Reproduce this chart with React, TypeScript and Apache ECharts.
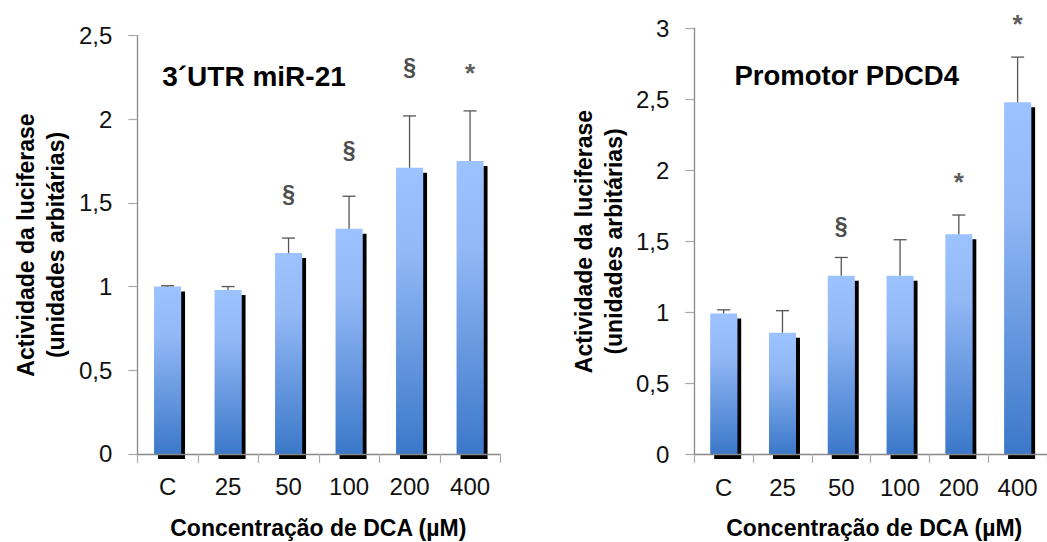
import React, { useEffect, useRef } from 'react';
import * as echarts from 'echarts';

const categories = ['C', '25', '50', '100', '200', '400'];
const leftMeans = [1.0, 0.98, 1.2, 1.345, 1.71, 1.75];
const leftSD = [0.005, 0.02, 0.09, 0.195, 0.31, 0.3];
const leftMarks = ['', '', '§', '§', '§', '*'];
const leftMarkAt = [0, 0, 1.54, 1.806, 2.3, 2.31];
const rightMeans = [0.99, 0.855, 1.257, 1.257, 1.548, 2.478];
const rightSD = [0.026, 0.155, 0.128, 0.253, 0.136, 0.319];
const rightMarks = ['', '', '§', '', '*', '*'];
const rightMarkAt = [0, 0, 1.59, 0, 1.958, 3.075];
const leftYMax = 2.5;
const rightYMax = 3;
const yStep = 0.5;
const leftTitle = '3´UTR miR-21';
const rightTitle = 'Promotor PDCD4';
const xTitle = 'Concentração de DCA (µM)';
const yTitle = 'Actividade da luciferase\n(unidades arbitárias)';

const FONT = "'Liberation Sans', Arial, sans-serif";

function barGradient() {
  return new echarts.graphic.LinearGradient(0, 0, 0, 1, [
    { offset: 0, color: '#9CC2FF' },
    { offset: 0.3, color: '#92B8F6' },
    { offset: 1, color: '#3B78C9' },
  ]);
}

function makeAxes(gi: number, max: number) {
  const x = {
    type: 'category',
    gridIndex: gi,
    data: categories,
    z: 3,
    axisLine: { show: true, lineStyle: { color: '#888', width: 1.3 } },
    axisTick: { show: true, length: 9, lineStyle: { color: '#aaa', width: 1.2 } },
    axisLabel: { color: '#111', fontSize: 24, fontFamily: FONT, margin: 21 },
    splitLine: { show: false },
  };
  const y = {
    type: 'value',
    gridIndex: gi,
    min: 0,
    max,
    interval: yStep,
    axisLine: { show: true, lineStyle: { color: '#888', width: 1.3 } },
    axisTick: { show: true, length: 9, lineStyle: { color: '#aaa', width: 1.2 } },
    axisLabel: {
      color: '#111',
      fontSize: 24,
      fontFamily: FONT,
      margin: 25,
      formatter: (v: number) => String(v).replace('.', ','),
    },
    splitLine: { show: false },
  };
  return { x, y };
}

function makeSeries(gi: number, means: number[], sd: number[], marks: string[], markAt: number[]) {
  const markList = marks
    .map((t, i) => ({ t, i, v: markAt[i] }))
    .filter((m) => m.t !== '');
  return [
    {
      type: 'bar',
      xAxisIndex: gi,
      yAxisIndex: gi,
      data: means,
      barWidth: 27,
      clip: false,
      z: 2,
      itemStyle: {
        color: barGradient(),
        shadowColor: '#000',
        shadowBlur: 0,
        shadowOffsetX: 4,
        shadowOffsetY: 5,
      },
    },
    {
      type: 'custom',
      xAxisIndex: gi,
      yAxisIndex: gi,
      z: 4,
      data: means.map((m, i) => [i, m, m + sd[i]]),
      encode: { x: 0, y: [1, 2] },
      renderItem: (params: any, api: any) => {
        const i = api.value(0);
        const lo = api.coord([i, api.value(1)]);
        const hi = api.coord([i, api.value(2)]);
        const st = { stroke: '#555', lineWidth: 1.3 };
        return {
          type: 'group',
          children: [
            { type: 'line', shape: { x1: lo[0], y1: lo[1], x2: hi[0], y2: hi[1] }, style: st },
            { type: 'line', shape: { x1: hi[0] - 6.5, y1: hi[1], x2: hi[0] + 6.5, y2: hi[1] }, style: st },
          ],
        };
      },
    },
    {
      type: 'custom',
      xAxisIndex: gi,
      yAxisIndex: gi,
      z: 4,
      data: markList.map((m) => [m.i, m.v]),
      renderItem: (params: any, api: any) => {
        const m = markList[params.dataIndex];
        const p = api.coord([m.i, m.v]);
        const isStar = m.t === '*';
        return {
          type: 'text',
          x: p[0],
          y: p[1] + (isStar ? 6 : -2),
          style: {
            text: m.t,
            fill: isStar ? '#5e5e5e' : '#4e4e4e',
            fontSize: isStar ? 26 : 23,
            fontWeight: 'bold',
            fontFamily: FONT,
            align: 'center',
            verticalAlign: 'middle',
            textAlign: 'center',
            textVerticalAlign: 'middle',
          },
        };
      },
    },
  ];
}

function txt(x: number, y: number, text: string, size: number, rotation = 0, lineHeight?: number) {
  return {
    type: 'text',
    x,
    y,
    rotation,
    style: {
      text,
      fill: '#000',
      fontSize: size,
      fontWeight: 'bold',
      fontFamily: FONT,
      lineHeight: lineHeight || size * 1.2,
      align: 'center',
      verticalAlign: 'middle',
      textAlign: 'center',
      textVerticalAlign: 'middle',
    },
  };
}

export default function App() {
  const ref = useRef<HTMLDivElement>(null);
  useEffect(() => {
    document.body.style.margin = '0';
    if (!ref.current) return;
    const chart = echarts.init(ref.current, undefined, { renderer: 'svg' });
    const L = makeAxes(0, leftYMax);
    const R = makeAxes(1, rightYMax);
    chart.setOption({
      animation: false,
      backgroundColor: '#fff',
      grid: [
        { left: 137.3, top: 35.6, width: 363, height: 418.3 },
        { left: 694.3, top: 28.3, width: 361.2, height: 425.7 },
      ],
      xAxis: [L.x, R.x],
      yAxis: [L.y, R.y],
      series: [
        ...makeSeries(0, leftMeans, leftSD, leftMarks, leftMarkAt),
        ...makeSeries(1, rightMeans, rightSD, rightMarks, rightMarkAt),
      ],
      graphic: [
        txt(254, 76, leftTitle, 28),
        txt(846.7, 75, rightTitle, 27.5),
        txt(318.3, 528, xTitle, 23),
        txt(874.2, 528, xTitle, 23),
        txt(41, 245, yTitle, 23, Math.PI / 2, 30),
        txt(599, 241.5, yTitle, 23, Math.PI / 2, 30),
      ],
    });
    return () => chart.dispose();
  }, []);
  return <div ref={ref} style={{ width: 1047, height: 542 }} />;
}
